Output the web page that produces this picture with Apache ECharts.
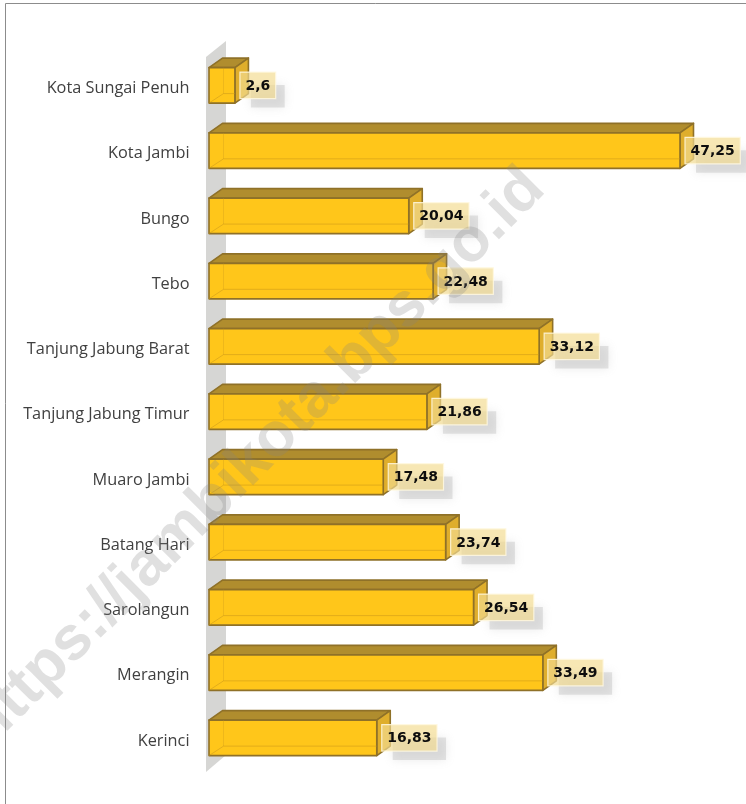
<!DOCTYPE html>
<html>
<head>
<meta charset="utf-8">
<style>html,body{margin:0;padding:0;background:#fff}#c{width:746px;height:804px}</style>
<script src="https://cdn.jsdelivr.net/npm/echarts@6/dist/echarts.min.js"></script>
</head>
<body>
<div id="c"></div>
<script>
const categories = ['Kerinci','Merangin','Sarolangun','Batang Hari','Muaro Jambi','Tanjung Jabung Timur','Tanjung Jabung Barat','Tebo','Bungo','Kota Jambi','Kota Sungai Penuh'];
const values = [16.83,33.49,26.54,23.74,17.48,21.86,33.12,22.48,20.04,47.25,2.6];
const valueLabels = ['16,83','33,49','26,54','23,74','17,48','21,86','33,12','22,48','20,04','47,25','2,6'];
const watermark = 'https://jambikota.bps.go.id';

const chart = echarts.init(document.getElementById('c'), null, {renderer:'canvas'});
const LABEL_FONT = 'bold 14px "DejaVu Sans"';
const ctx = document.createElement('canvas').getContext('2d');
ctx.font = LABEL_FONT;

function bar3d(params, api){
  const idx = api.value(2);
  const p = api.coord([api.value(0), api.value(1)]);
  const o = api.coord([0, api.value(1)]);
  const H = 35.5, dx = 13.5, dy = 9.5;
  const x0 = o[0], x1 = p[0], yt = p[1]-H/2+0.3, yb = yt+H;
  const edge = '#8f7128';
  const st = {stroke:edge, lineWidth:1.6, lineJoin:'round'};
  const text = valueLabels[idx];
  const tw = ctx.measureText(text).width;
  const bx = x1+5, by = p[1]-13, bw = tw+11, bh = 26.5;
  return {type:'group', children:[
    {type:'polygon', shape:{points:[[x0,yt],[x0+dx,yt-dy],[x1+dx,yt-dy],[x1,yt]]}, style:Object.assign({fill:'#b08d2e'},st)},
    {type:'polygon', shape:{points:[[x1,yt],[x1+dx,yt-dy],[x1+dx,yb-dy],[x1,yb]]}, style:Object.assign({fill:'#dfae2c'},st)},
    {type:'rect', shape:{x:x0,y:yt,width:x1-x0,height:H}, style:Object.assign({fill:'#ffc61a'},st)},
    {type:'polyline', silent:true, shape:{points:[[x0,yb],[x0+dx+1,yb-dy],[x1,yb-dy]]}, style:{fill:'none',stroke:'rgba(200,150,25,0.5)',lineWidth:1}},
    {type:'line', silent:true, shape:{x1:x0+dx+1,y1:yt,x2:x0+dx+1,y2:yb-dy}, style:{stroke:'rgba(200,150,25,0.3)',lineWidth:1}},
    {type:'rect', silent:true, shape:{x:bx+11,y:by+13,width:bw-2,height:bh-4}, style:{fill:'rgba(175,175,175,0.32)',shadowBlur:10,shadowColor:'rgba(150,150,150,0.6)'}},
    {type:'rect', silent:true, shape:{x:bx,y:by,width:bw,height:bh}, style:{fill:'rgba(243,220,145,0.68)',stroke:'rgba(255,248,225,0.85)',lineWidth:1.2}},
    {type:'text', silent:true, style:{x:bx+bw/2,y:by+bh/2+1,text:text,font:LABEL_FONT,fill:'#0d0d0d',align:'center',verticalAlign:'middle'}}
  ]};
}

chart.setOption({
  animation:false,
  backgroundColor:'#fff',
  grid:{left:209,top:52.4,width:498.4,height:717.8,containLabel:false},
  xAxis:{type:'value',min:0,max:50,show:false},
  yAxis:{type:'category',data:categories,
    axisLine:{show:false},axisTick:{show:false},splitLine:{show:false},
    axisLabel:{margin:19.5,formatter:v=>'{a|'+v+'}',
      rich:{a:{fontFamily:'"Open Sans"',fontSize:16.3,color:'#404040',padding:[7,0,0,0]}}}},
  graphic:{elements:[
    {type:'polyline',z:0,shape:{points:[[5.5,804],[5.5,3.5],[746,3.5]]},style:{fill:'none',stroke:'#8c8c8c',lineWidth:1}},
    {type:'polygon',z:0,shape:{points:[[206,57],[226,41],[226,755],[206,772]]},style:{fill:'#d6d6d4'}},
    {type:'text',z:100,silent:true,x:535,y:179,rotation:Math.PI/4,
      style:{text:watermark,font:'bold 62px "Liberation Sans"',fill:'rgba(130,130,130,0.25)',align:'right',verticalAlign:'middle'}}
  ]},
  series:[{type:'custom',z:5,renderItem:bar3d,encode:{x:0,y:1},
    data:values.map((v,i)=>[v,i,i]),clip:false}]
});
</script>
</body>
</html>
